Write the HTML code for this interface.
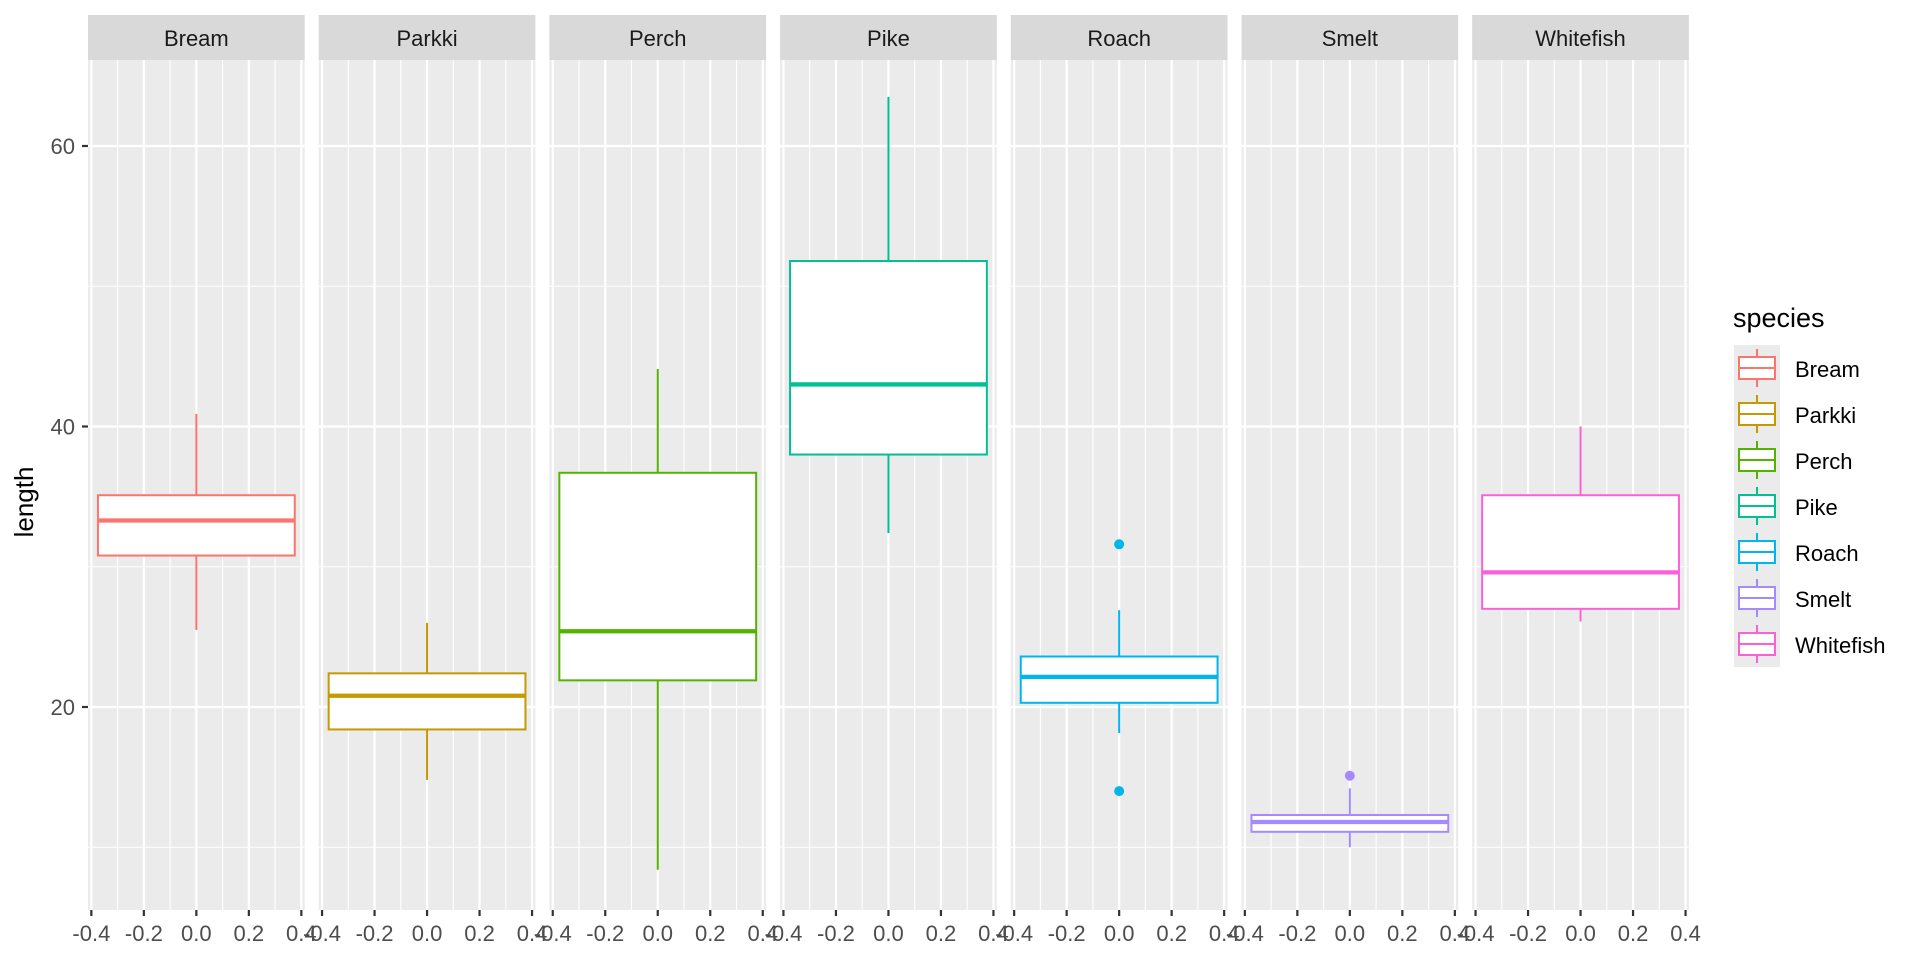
<!DOCTYPE html>
<html><head><meta charset="utf-8"><style>
html,body{margin:0;padding:0;background:#fff;}
svg{display:block;font-family:"Liberation Sans",sans-serif;}
</style></head><body>
<svg id="s" width="1920" height="960" viewBox="0 0 1920 960">
<g id="panels"></g>
<g font-size="22" fill="#1a1a1a" text-anchor="middle">
<text x="196.35" y="46">Bream</text>
<text x="427.05" y="46">Parkki</text>
<text x="657.75" y="46">Perch</text>
<text x="888.45" y="46">Pike</text>
<text x="1119.15" y="46">Roach</text>
<text x="1349.85" y="46">Smelt</text>
<text x="1580.55" y="46">Whitefish</text>
</g>
<g font-size="22" fill="#4d4d4d" text-anchor="end">
<text x="75" y="154">60</text>
<text x="75" y="434.5">40</text>
<text x="75" y="715">20</text>
</g>
<text x="0" y="0" font-size="26" fill="#000" text-anchor="middle" transform="translate(33,502) rotate(-90)">length</text>
<g font-size="22" fill="#4d4d4d" text-anchor="middle">
<g transform="translate(196.35,0)"><text x="-105" y="941">-0.4</text><text x="-52.5" y="941">-0.2</text><text x="0" y="941">0.0</text><text x="52.5" y="941">0.2</text><text x="105" y="941">0.4</text></g>
<g transform="translate(427.05,0)"><text x="-105" y="941">-0.4</text><text x="-52.5" y="941">-0.2</text><text x="0" y="941">0.0</text><text x="52.5" y="941">0.2</text><text x="105" y="941">0.4</text></g>
<g transform="translate(657.75,0)"><text x="-105" y="941">-0.4</text><text x="-52.5" y="941">-0.2</text><text x="0" y="941">0.0</text><text x="52.5" y="941">0.2</text><text x="105" y="941">0.4</text></g>
<g transform="translate(888.45,0)"><text x="-105" y="941">-0.4</text><text x="-52.5" y="941">-0.2</text><text x="0" y="941">0.0</text><text x="52.5" y="941">0.2</text><text x="105" y="941">0.4</text></g>
<g transform="translate(1119.15,0)"><text x="-105" y="941">-0.4</text><text x="-52.5" y="941">-0.2</text><text x="0" y="941">0.0</text><text x="52.5" y="941">0.2</text><text x="105" y="941">0.4</text></g>
<g transform="translate(1349.85,0)"><text x="-105" y="941">-0.4</text><text x="-52.5" y="941">-0.2</text><text x="0" y="941">0.0</text><text x="52.5" y="941">0.2</text><text x="105" y="941">0.4</text></g>
<g transform="translate(1580.55,0)"><text x="-105" y="941">-0.4</text><text x="-52.5" y="941">-0.2</text><text x="0" y="941">0.0</text><text x="52.5" y="941">0.2</text><text x="105" y="941">0.4</text></g>
</g>
<text x="1733" y="327" font-size="27" fill="#000">species</text>
<g id="legend"></g>
<g font-size="22" fill="#000">
<text x="1795" y="377">Bream</text>
<text x="1795" y="423">Parkki</text>
<text x="1795" y="469">Perch</text>
<text x="1795" y="515">Pike</text>
<text x="1795" y="561">Roach</text>
<text x="1795" y="607">Smelt</text>
<text x="1795" y="653">Whitefish</text>
</g>
</svg>
<script>
var NS="http://www.w3.org/2000/svg";
function el(p,t,a){var e=document.createElementNS(NS,t);for(var k in a)e.setAttribute(k,a[k]);p.appendChild(e);return e;}
var P=document.getElementById('panels');
function Y(v){return 146+(60-v)*14.025;}
var cols=["#F8766D","#C49A00","#53B400","#00C094","#00B6EB","#A58AFF","#FB61D7"];
var data=[
[40.9,35.1,33.3,30.8,25.5,[]],
[26.0,22.4,20.8,18.4,14.8,[]],
[44.1,36.7,25.4,21.9,8.4,[]],
[63.5,51.8,43.0,38.0,32.4,[]],
[26.9,23.6,22.15,20.3,18.15,[31.6,14.0]],
[14.2,12.3,11.8,11.1,10.0,[15.1]],
[40.0,35.1,29.6,27.0,26.1,[]]];
var W=216.7;
for(var i=0;i<7;i++){
 var L=88+i*230.7, c=L+108.35;
 var g=el(P,'g',{});
 el(g,'rect',{x:L,y:15,width:W,height:45,fill:'#d9d9d9'});
 el(g,'rect',{x:L,y:60,width:W,height:850,fill:'#ebebeb'});
 [566.75,286.25,847.25].forEach(function(y){el(g,'line',{x1:L,x2:L+W,y1:y,y2:y,stroke:'#fff','stroke-width':1.1});});
 [-78.75,-26.25,26.25,78.75].forEach(function(d){el(g,'line',{x1:c+d,x2:c+d,y1:60,y2:910,stroke:'#fff','stroke-width':1.1});});
 [146,426.5,707].forEach(function(y){el(g,'line',{x1:L,x2:L+W,y1:y,y2:y,stroke:'#fff','stroke-width':2.2});});
 [-105,-52.5,0,52.5,105].forEach(function(d){
   el(g,'line',{x1:c+d,x2:c+d,y1:60,y2:910,stroke:'#fff','stroke-width':2.2});
   el(g,'line',{x1:c+d,x2:c+d,y1:910,y2:916,stroke:'#333','stroke-width':2.2});
 });
 var d=data[i],col=cols[i];
 el(g,'line',{x1:c,x2:c,y1:Y(d[0]),y2:Y(d[1]),stroke:col,'stroke-width':2});
 el(g,'line',{x1:c,x2:c,y1:Y(d[3]),y2:Y(d[4]),stroke:col,'stroke-width':2});
 el(g,'rect',{x:c-98.4,y:Y(d[1]),width:196.8,height:Y(d[3])-Y(d[1]),fill:'#fff',stroke:col,'stroke-width':2});
 el(g,'line',{x1:c-98.4,x2:c+98.4,y1:Y(d[2]),y2:Y(d[2]),stroke:col,'stroke-width':4.3});
 d[5].forEach(function(o){el(g,'circle',{cx:c,cy:Y(o),r:5,fill:col});});
}
[146,426.5,707].forEach(function(y){el(P,'line',{x1:82,x2:88,y1:y,y2:y,stroke:'#333','stroke-width':2.2});});
var Lg=document.getElementById('legend');
for(var i=0;i<7;i++){
 var y0=345+i*46;
 el(Lg,'rect',{x:1734,y:y0,width:46,height:46,fill:'#ebebeb'});
 el(Lg,'line',{x1:1757,x2:1757,y1:y0+4,y2:y0+42,stroke:cols[i],'stroke-width':2});
 el(Lg,'rect',{x:1739,y:y0+12,width:36,height:22,fill:'#fff',stroke:cols[i],'stroke-width':2});
 el(Lg,'line',{x1:1739,x2:1775,y1:y0+23,y2:y0+23,stroke:cols[i],'stroke-width':2});
}
</script>
</body></html>
